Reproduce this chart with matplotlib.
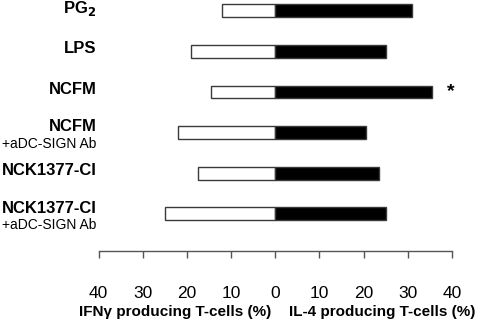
import matplotlib
matplotlib.use("Agg")
import matplotlib.pyplot as plt
import matplotlib.transforms as mtransforms

plt.rcParams['font.family'] = ['Liberation Sans', 'DejaVu Sans']

# stimuli, top to bottom
names = ['PG$_\\mathbf{2}$', 'LPS', 'NCFM', 'NCFM', 'NCK1377-CI', 'NCK1377-CI']
subnames = ['', '', '', '+aDC-SIGN Ab', '', '+aDC-SIGN Ab']
ifn = [12, 19, 14.5, 22, 17.5, 25]      # IFNγ producing T-cells (%)
il4 = [31, 25, 35.5, 20.5, 23.5, 25]    # IL-4 producing T-cells (%)
signif = [False, False, True, False, False, False]
ticks = [-40, -30, -20, -10, 0, 10, 20, 30, 40]
ticklabels = ['40', '30', '20', '10', '0', '10', '20', '30', '40']

fig = plt.figure(figsize=(4.83, 3.22), dpi=100)
ax = fig.add_axes([0.2043, 0.2205, 0.7315, 0.7795])

edge = '#3a3a3a'
ypos = list(range(len(names)))
ax.barh(ypos, [-v for v in ifn], left=0, height=0.32, color='white',
        edgecolor=edge, linewidth=1.0)
ax.barh(ypos, il4, left=0, height=0.32, color='black',
        edgecolor=edge, linewidth=1.0)

ax.set_xlim(-40, 40)
ax.set_ylim(5.916, -0.266)
ax.set_xticks(ticks)
ax.set_xticklabels(ticklabels, fontsize=12.5)
ax.tick_params(axis='x', direction='out', length=5, width=1, color='#555555', pad=20)
ax.set_yticks([])
for s in ['top', 'right', 'left']:
    ax.spines[s].set_visible(False)
ax.spines['bottom'].set_color('#555555')
ax.spines['bottom'].set_linewidth(1)

# category labels, with antibody note under the two-line ones
trans = mtransforms.blended_transform_factory(ax.transAxes, ax.transData)
for y, n, sub in zip(ypos, names, subnames):
    if sub:
        ax.text(-0.006, y - 0.14, n, transform=trans, ha='right', va='center',
                fontsize=12, fontweight='bold')
        ax.text(-0.006, y + 0.28, sub, transform=trans, ha='right', va='center',
                fontsize=10)
    else:
        ax.text(-0.006, y - 0.06, n, transform=trans, ha='right', va='center',
                fontsize=12, fontweight='bold')

for y, v, s in zip(ypos, il4, signif):
    if s:
        ax.text(v + 4.2, y, '*', ha='center', va='center', fontsize=14,
                fontweight='bold')

fig.text(175 / 483, 1 - 312 / 322, 'IFNγ producing T-cells (%)', ha='center',
         va='center', fontsize=11, fontweight='bold')
fig.text(289 / 483, 1 - 312 / 322, 'IL-4 producing T-cells (%)', ha='left',
         va='center', fontsize=11, fontweight='bold')

fig.savefig('out.png', dpi=100)
